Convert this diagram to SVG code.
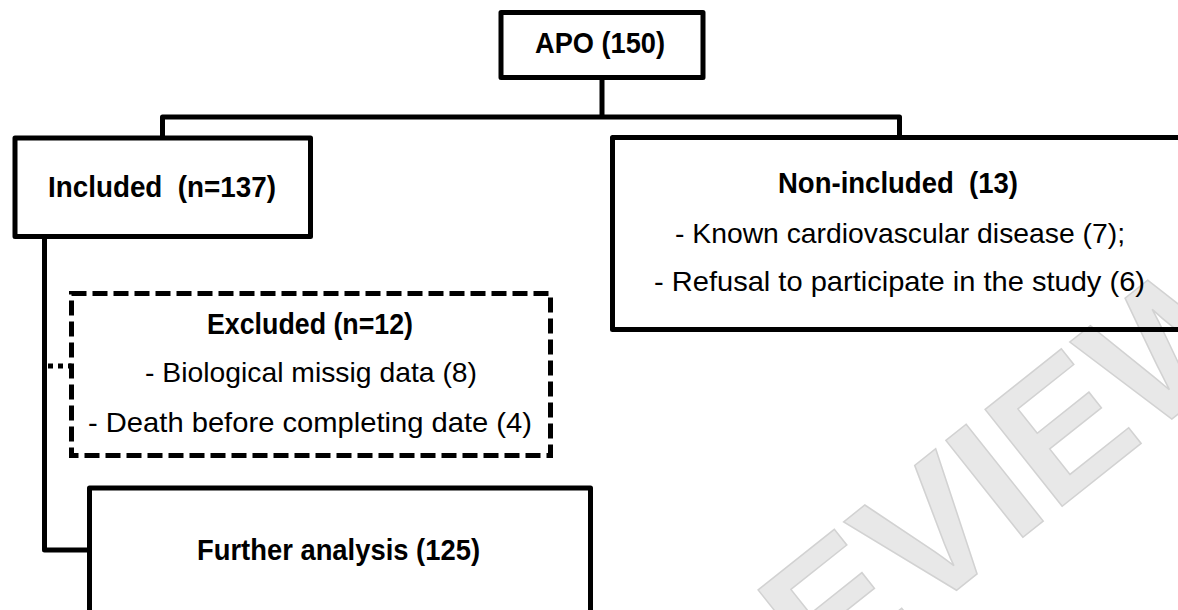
<svg xmlns="http://www.w3.org/2000/svg" width="1178" height="610" viewBox="0 0 1178 610">
<style>
.box{fill:none;stroke:#000;stroke-width:5;stroke-linejoin:round}
.dash{stroke-dasharray:15 6;stroke-linejoin:miter}
.conn{fill:none;stroke:#000;stroke-width:5;stroke-linejoin:round}
.t{font-family:"Liberation Sans Narrow","Liberation Sans",Arial,sans-serif;fill:#000;white-space:pre}
.b{font-weight:bold;font-size:30px}
.r{font-size:28px}
.wm{font-family:"Liberation Sans",Arial,sans-serif;font-weight:bold;font-size:180px;fill:#e8e8e8;stroke:#d2d2d2;stroke-width:1.5}
</style>
<rect width="1178" height="610" fill="#fff"/>
<text class="wm" transform="translate(630,850) rotate(-38.5)">PREVIEW</text>
<g id="connectors">
<path class="conn" d="M602,77.5 V117 M162.5,138 V117 H899.5 V137.5"/>
<path class="conn" d="M44.5,236.5 V550 H89.5"/>
<path class="conn" d="M48,366 H71.5" stroke-dasharray="5 5" stroke-linejoin="miter" stroke-linecap="butt"/>
</g>
<g id="apo">
<rect class="box" x="501" y="12.5" width="202" height="65"/>
<text class="t b" x="535" y="53" textLength="130" lengthAdjust="spacingAndGlyphs">APO (150)</text>
</g>
<g id="included">
<rect class="box" x="15" y="138" width="295.5" height="98.5"/>
<text class="t b" x="48" y="197" textLength="228" lengthAdjust="spacingAndGlyphs">Included  (n=137)</text>
</g>
<g id="non-included">
<rect class="box" x="612.5" y="137.5" width="600" height="192"/>
<text class="t b" x="778" y="193" textLength="240" lengthAdjust="spacingAndGlyphs">Non-included  (13)</text>
<text class="t r" x="675" y="243" textLength="450" lengthAdjust="spacingAndGlyphs">- Known cardiovascular disease (7);</text>
<text class="t r" x="654" y="291" textLength="491" lengthAdjust="spacingAndGlyphs">- Refusal to participate in the study (6)</text>
</g>
<g id="excluded">
<rect class="box dash" x="71.5" y="293.5" width="479" height="162"/>
<text class="t b" x="207" y="334" textLength="206" lengthAdjust="spacingAndGlyphs">Excluded (n=12)</text>
<text class="t r" x="145" y="382" textLength="332" lengthAdjust="spacingAndGlyphs">- Biological missig data (8)</text>
<text class="t r" x="88" y="432" textLength="444" lengthAdjust="spacingAndGlyphs">- Death before completing date (4)</text>
</g>
<g id="further">
<rect class="box" x="89.5" y="488" width="501" height="200"/>
<text class="t b" x="197" y="560" textLength="283" lengthAdjust="spacingAndGlyphs">Further analysis (125)</text>
</g>
</svg>
